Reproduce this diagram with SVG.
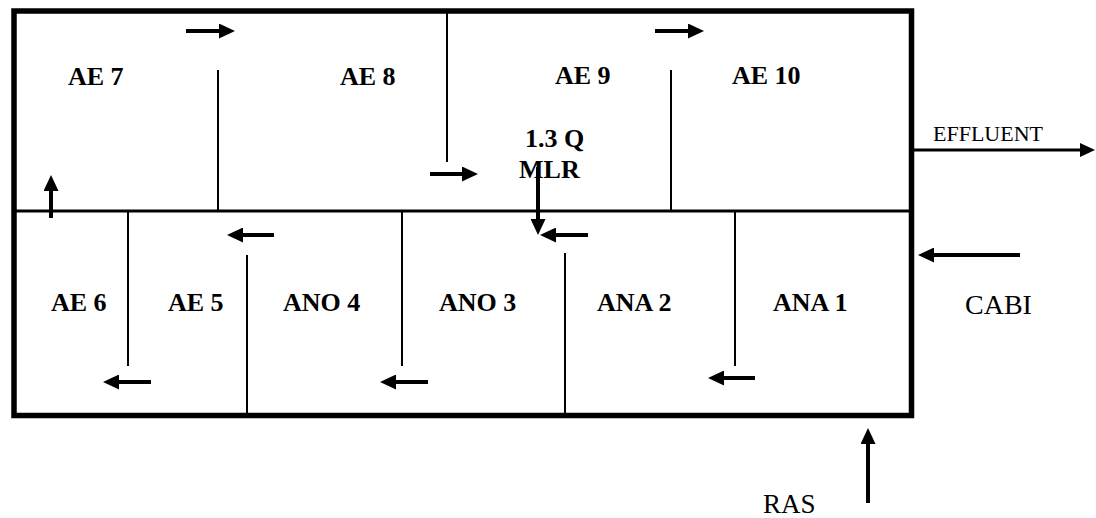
<svg xmlns="http://www.w3.org/2000/svg" width="1096" height="518" viewBox="0 0 1096 518">
<style>
.lbl{font-family:"Liberation Serif","Times New Roman",serif;font-weight:bold;font-size:26px;fill:#000}
.io{font-family:"Liberation Serif","Times New Roman",serif;font-size:27px;fill:#000}
.wall{stroke:#000;stroke-width:2;fill:none}
.arr{stroke:#000;stroke-width:4;fill:none;marker-end:url(#ah)}
</style>
<defs>
<marker id="ah" markerUnits="userSpaceOnUse" markerWidth="17" markerHeight="15" refX="6" refY="7.5" orient="auto">
<path d="M0,0 L16,7.5 L0,15 Z" fill="#000"/>
</marker>
<marker id="ahs" markerUnits="userSpaceOnUse" markerWidth="16" markerHeight="14" refX="6" refY="7" orient="auto">
<path d="M0,0 L15,7 L0,14 Z" fill="#000"/>
</marker>
</defs>
<rect width="1096" height="518" fill="#fff"/>
<g id="tank">
<rect x="14" y="11" width="897.5" height="404.5" fill="none" stroke="#000" stroke-width="5.5"/>
<line x1="14" y1="211" x2="911" y2="211" stroke="#000" stroke-width="3"/>
<line class="wall" x1="218" y1="70" x2="218" y2="211"/>
<line class="wall" x1="447" y1="11" x2="447" y2="162"/>
<line class="wall" x1="671" y1="70" x2="671" y2="211"/>
<line class="wall" x1="128" y1="211" x2="128" y2="366"/>
<line class="wall" x1="247" y1="255" x2="247" y2="415"/>
<line class="wall" x1="402" y1="211" x2="402" y2="366"/>
<line class="wall" x1="565" y1="253" x2="565" y2="415"/>
<line class="wall" x1="735" y1="211" x2="735" y2="366"/>
</g>
<g id="ae7"><text class="lbl" x="68" y="85">AE 7</text></g>
<g id="ae8"><text class="lbl" x="340" y="85">AE 8</text></g>
<g id="ae9"><text class="lbl" x="555" y="84">AE 9</text></g>
<g id="ae10"><text class="lbl" x="732" y="84">AE 10</text></g>
<g id="mlr"><text class="lbl" x="525" y="147">1.3 Q</text><text class="lbl" x="519" y="178">MLR</text></g>
<g id="ae6"><text class="lbl" x="51" y="311">AE 6</text></g>
<g id="ae5"><text class="lbl" x="168" y="311">AE 5</text></g>
<g id="ano4"><text class="lbl" x="283" y="311">ANO 4</text></g>
<g id="ano3"><text class="lbl" x="439" y="311">ANO 3</text></g>
<g id="ana2"><text class="lbl" x="597" y="311">ANA 2</text></g>
<g id="ana1"><text class="lbl" x="773" y="311">ANA 1</text></g>
<g id="effluent"><text x="933" y="141" style="font-family:'Liberation Serif','Times New Roman',serif;font-size:22px">EFFLUENT</text></g>
<g id="cabi"><text class="io" x="965" y="314" style="font-size:28px">CABI</text></g>
<g id="ras"><text class="io" x="763" y="513">RAS</text></g>
<g id="connectors">
<line class="arr" x1="186" y1="31" x2="225" y2="31"/>
<line class="arr" x1="655" y1="31" x2="694" y2="31"/>
<line class="arr" x1="430" y1="174" x2="468" y2="174"/>
<line class="arr" x1="51" y1="218" x2="51" y2="185"/>
<line class="arr" x1="538" y1="167" x2="538" y2="225"/>
<line class="arr" x1="588" y1="235" x2="550" y2="235"/>
<line class="arr" x1="274" y1="235" x2="237" y2="235"/>
<line class="arr" x1="151" y1="382" x2="113" y2="382"/>
<line class="arr" x1="428" y1="382" x2="390" y2="382"/>
<line class="arr" x1="755" y1="378" x2="718" y2="378"/>
<line class="arr" x1="1020" y1="255" x2="928" y2="255"/>
<line class="arr" x1="868" y1="503" x2="868" y2="438"/>
<line x1="914" y1="150" x2="1086" y2="150" stroke="#000" stroke-width="3" marker-end="url(#ahs)"/>
</g>
</svg>
